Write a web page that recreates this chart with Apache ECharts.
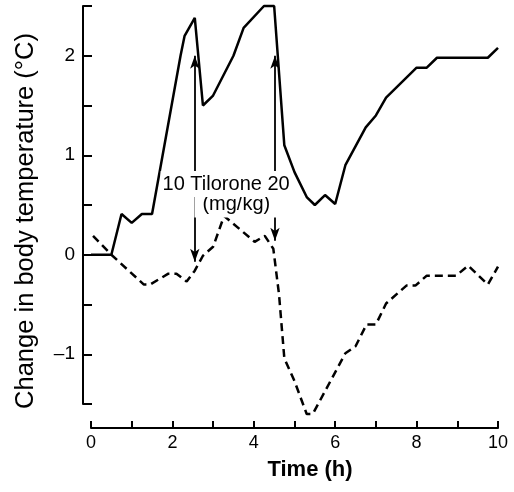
<!DOCTYPE html>
<html>
<head>
<meta charset="utf-8">
<script src="https://cdn.jsdelivr.net/npm/echarts@6/dist/echarts.min.js"></script>
<style>html,body{margin:0;padding:0;background:#fff}#c{width:514px;height:492px}</style>
</head>
<body>
<div id="c"></div>
<script>
// Time (h) and change in body temperature (°C)
const solidTimes = [0, 0.5, 0.75, 1.0, 1.25, 1.5, 2.2, 2.3, 2.55, 2.75, 3.0, 3.5, 3.75, 4.25, 4.5, 4.75, 5.0, 5.3, 5.5, 5.75, 6.0, 6.25, 6.75, 7.0, 7.25, 8.0, 8.25, 8.5, 9.75, 10];
const solidValues = [0, 0, 0.41, 0.32, 0.41, 0.41, 2.0, 2.2, 2.38, 1.5, 1.6, 2.0, 2.28, 2.5, 2.5, 1.1, 0.83, 0.58, 0.5, 0.6, 0.51, 0.9, 1.28, 1.4, 1.58, 1.88, 1.88, 1.98, 1.98, 2.08];
const dashedTimes = [0.05, 0.5, 1.3, 1.45, 1.9, 2.1, 2.35, 2.55, 2.75, 3.0, 3.27, 4.02, 4.27, 4.48, 4.62, 4.75, 5.0, 5.3, 5.45, 6.25, 6.5, 6.77, 7.0, 7.25, 7.75, 7.97, 8.25, 8.97, 9.27, 9.75, 10];
const dashedValues = [0.19, 0, -0.3, -0.3, -0.19, -0.19, -0.27, -0.16, -0.01, 0.08, 0.39, 0.13, 0.19, 0.06, -0.4, -1.04, -1.27, -1.6, -1.6, -0.99, -0.92, -0.7, -0.7, -0.49, -0.31, -0.31, -0.21, -0.21, -0.11, -0.3, -0.12];
// Injection arrows (time, top tip, bottom tip)
const arrowTimes = [2.55, 4.52];
const arrowTops = [2.0, 2.0];
const arrowBottoms = [-0.07, 0.14];
const annotationLine1 = '10 Tilorone 20';
const annotationLine2 = '(mg/kg)';
const xTicks = [0, 2, 4, 6, 8, 10];
const yTicks = [-1, 0, 1, 2];
const xTitle = 'Time (h)';
const yTitle = 'Change in body temperature (°C)';

const FONT = 'Liberation Sans, Arial, sans-serif';
const chart = echarts.init(document.getElementById('c'), null, {renderer: 'canvas'});
const pair = (xs, ys) => xs.map((x, i) => [x, ys[i]]);

chart.setOption({
  animation: false,
  backgroundColor: '#fff',
  grid: {left: 91, right: 16, top: 6, bottom: 88, containLabel: false},
  xAxis: {
    type: 'value', min: 0, max: 10, interval: 1, offset: 24,
    axisLine: {onZero: false, lineStyle: {color: '#000', width: 2}},
    axisTick: {inside: true, length: 7, lineStyle: {color: '#000', width: 2}},
    axisLabel: {color: '#000', fontFamily: FONT, fontSize: 18, margin: 6,
      formatter: v => xTicks.includes(v) ? String(v) : ''},
    splitLine: {show: false}
  },
  yAxis: {
    type: 'value', min: -1.5, max: 2.5, interval: 0.5, offset: 8,
    axisLine: {onZero: false, lineStyle: {color: '#000', width: 2}},
    axisTick: {inside: true, length: 9, lineStyle: {color: '#000', width: 2}},
    axisLabel: {color: '#000', fontFamily: FONT, fontSize: 19, margin: 8,
      formatter: v => yTicks.includes(v) ? (v < 0 ? '\u2013' + Math.abs(v) : String(v)) : ''},
    splitLine: {show: false}
  },
  series: [
    {
      type: 'line', data: pair(solidTimes, solidValues), showSymbol: false, clip: false,
      lineStyle: {color: '#000', width: 2.5}
    },
    {
      type: 'line', data: pair(dashedTimes, dashedValues), showSymbol: false, clip: false,
      lineStyle: {color: '#000', width: 2.5, type: [8, 5]}
    },
    {
      type: 'line', data: [], silent: true,
      markLine: {
        silent: true, symbol: ['arrow', 'arrow'], symbolSize: [7, 13],
        label: {show: false},
        lineStyle: {color: '#000', width: 1.8, type: 'solid'},
        data: arrowTimes.map((t, i) => [{coord: [t, arrowTops[i]]}, {coord: [t, arrowBottoms[i]]}])
      }
    }
  ]
});

function place() {
  const p1 = chart.convertToPixel({gridIndex: 0}, [3.32, 0.71]);
  const p2 = chart.convertToPixel({gridIndex: 0}, [3.57, 0.51]);
  chart.setOption({
    graphic: [
      {type: 'text', x: p2[0], y: p2[1], z: 100,
        style: {text: annotationLine2, font: '20px ' + FONT, fill: '#000', align: 'center', verticalAlign: 'middle',
          backgroundColor: '#fff', padding: [1, 8, 6, 8]}},
      {type: 'text', x: p1[0], y: p1[1], z: 101,
        style: {text: annotationLine1, font: '20px ' + FONT, fill: '#000', align: 'center', verticalAlign: 'middle',
          backgroundColor: '#fff', padding: [3, 2]}},
      {type: 'text', x: 310, y: 470, z: 100,
        style: {text: xTitle, font: 'bold 22px ' + FONT, fill: '#000', align: 'center', verticalAlign: 'middle'}},
      {type: 'text', x: 26, y: 221, rotation: Math.PI / 2, z: 100,
        style: {text: yTitle, font: '25.5px ' + FONT, fill: '#000', align: 'center', verticalAlign: 'middle'}}
    ]
  });
}
place();
</script>
</body>
</html>
